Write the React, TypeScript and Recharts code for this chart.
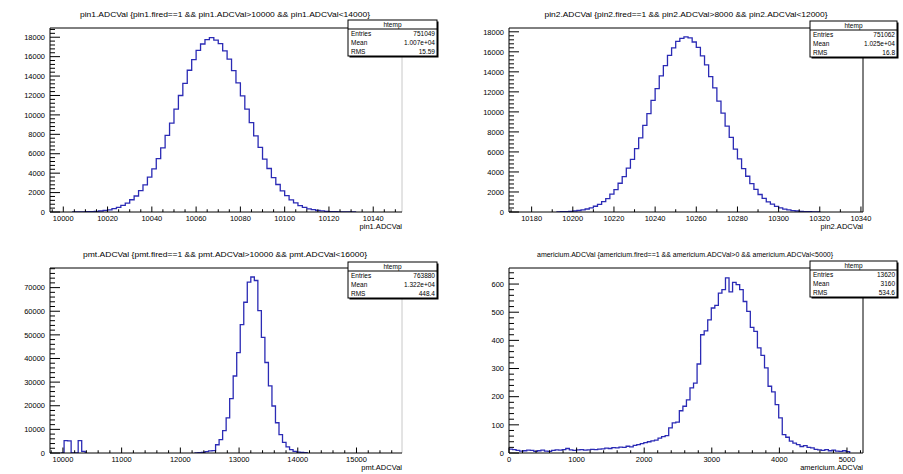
import React from 'react';
import { LineChart, Line, XAxis, YAxis, ReferenceLine } from 'recharts';

const FONT = '"Liberation Sans", Arial, sans-serif';
const HIST_COLOR = '#2b2bb5';

// --- pin1 ---
const PIN1_TITLE = 'pin1.ADCVal {pin1.fired==1 && pin1.ADCVal>10000 && pin1.ADCVal<14000}';
const PIN1_STATS = [['Entries', '751049'], ['Mean', '1.007e+04'], ['RMS', '15.59']];
const PIN1_START = 10004;
const PIN1_BIN = 2;
const PIN1_COUNTS = [
  8, 12, 17, 31, 44, 72, 101, 160, 228, 340, 470, 680, 910, 1260, 1650, 2200,
  2800, 3600, 4450, 5500, 6600, 7900, 9150, 10600, 12000, 13250, 14600, 15700,
  16650, 17300, 17750, 17950, 17700, 17350, 16600, 15750, 14550, 13300, 11950,
  10600, 9200, 7850, 6650, 5450, 4480, 3550, 2830, 2170, 1680, 1240, 930, 660,
  480, 330, 235, 155, 108, 70, 44, 30, 17, 12, 7, 4,
];
const PIN1_X_LABELS = [10000, 10020, 10040, 10060, 10080, 10100, 10120, 10140];
const PIN1_Y_LABELS = [0, 2000, 4000, 6000, 8000, 10000, 12000, 14000, 16000, 18000];

// --- pin2 ---
const PIN2_TITLE = 'pin2.ADCVal {pin2.fired==1 && pin2.ADCVal>8000 && pin2.ADCVal<12000}';
const PIN2_STATS = [['Entries', '751062'], ['Mean', '1.025e+04'], ['RMS', '16.8']];
const PIN2_START = 10192;
const PIN2_BIN = 2;
const PIN2_COUNTS = [
  18, 31, 44, 70, 98, 148, 205, 300, 405, 575, 760, 1040, 1340, 1780, 2240, 2870,
  3530, 4390, 5260, 6330, 7400, 8650, 9820, 11150, 12330, 13600, 14620, 15650,
  16400, 17050, 17350, 17500, 17400, 16980, 16450, 15600, 14700, 13520, 12400,
  11080, 9880, 8580, 7450, 6280, 5300, 4340, 3570, 2830, 2270, 1750, 1370, 1020,
  780, 560, 415, 290, 212, 142, 102, 66, 46, 29, 19, 12,
];
const PIN2_X_LABELS = [10180, 10200, 10220, 10240, 10260, 10280, 10300, 10320, 10340];
const PIN2_Y_LABELS = [0, 2000, 4000, 6000, 8000, 10000, 12000, 14000, 16000, 18000];

// --- pmt ---
const PMT_TITLE = 'pmt.ADCVal {pmt.fired==1 && pmt.ADCVal>10000 && pmt.ADCVal<16000}';
const PMT_STATS = [['Entries', '763880'], ['Mean', '1.322e+04'], ['RMS', '448.4']];
const PMT_START = 9960;
const PMT_BIN = 60;
const PMT_COUNTS = [
  0, 5200, 5100, 0, 0, 5200, 700, 0, 0, 0, 0, 0, 0, 0, 0, 0,
  0, 0, 0, 0, 0, 0, 0, 0, 0, 0, 0, 0, 0, 0, 0, 0,
  0, 0, 0, 0, 0, 0, 0, 100, 300, 600, 900, 1000, 3500, 5700, 9500, 14900,
  23000, 32600, 42500, 54300, 63800, 72300, 74500, 73000, 60300, 48900, 38300,
  28400, 19900, 12800, 7800, 4500, 2600, 1400, 700, 400, 300, 200,
];
const PMT_X_LABELS = [10000, 11000, 12000, 13000, 14000, 15000];
const PMT_Y_LABELS = [0, 10000, 20000, 30000, 40000, 50000, 60000, 70000];

// --- americium ---
const AM_TITLE = 'americium.ADCVal {americium.fired==1 && americium.ADCVal>0 && americium.ADCVal<5000}';
const AM_STATS = [['Entries', '13620'], ['Mean', '3160'], ['RMS', '534.6']];
const AM_START = 0;
const AM_BIN = 52.5;
const AM_COUNTS = [
  14, 12, 9, 7, 8, 10, 9, 6, 8, 10, 7, 6, 9, 11, 10, 12, 16, 11, 9, 11,
  12, 10, 11, 13, 12, 14, 15, 17, 16, 19, 18, 21, 20, 24, 22, 27, 30, 33, 37, 40,
  43, 46, 53, 58, 62, 89, 107, 110, 150, 166, 189, 231, 248, 316, 420,
  434, 473, 515, 524, 568, 580, 622, 572, 606, 598, 580, 538, 503, 446, 432,
  373, 347, 302, 237, 217, 172, 125, 65, 56, 42, 35, 30, 23, 26, 20,
  18, 13, 11, 9, 12, 8, 10, 7, 6, 8, 5,
];
const AM_X_LABELS = [0, 1000, 2000, 3000, 4000, 5000];
const AM_Y_LABELS = [0, 100, 200, 300, 400, 500, 600];

function range(a: number, b: number, step: number) {
  const out: number[] = [];
  for (let v = a; v <= b + 1e-9; v += step) out.push(Math.round(v * 1000) / 1000);
  return out;
}

// histogram bins -> step points; long empty stretches become gaps
function histData(start: number, width: number, counts: number[]) {
  const pts = counts.map((c, i) => {
    const prev = i > 0 ? counts[i - 1] : 0;
    const next = i < counts.length - 1 ? counts[i + 1] : 0;
    const empty = c === 0 && prev === 0 && next === 0;
    return { x: start + i * width, v: empty ? null : c };
  });
  pts.push({ x: start + counts.length * width, v: 0 });
  return pts;
}

function makeXTick(labels: number[], len: number) {
  return (props: any) => {
    const { x, y, payload } = props;
    const major = labels.includes(payload.value);
    return (
      <g>
        <line x1={x} x2={x} y1={y} y2={y - (major ? len : len / 2)} stroke="#000" strokeWidth={1} />
        {major && (
          <text x={x} y={y + 8.5} textAnchor="middle" fontSize={7.5} fontFamily={FONT} fill="#000">
            {payload.value}
          </text>
        )}
      </g>
    );
  };
}

function makeYTick(labels: number[], len: number) {
  return (props: any) => {
    const { x, y, payload } = props;
    const major = labels.includes(payload.value);
    return (
      <g>
        <line x1={x} x2={x + (major ? len : len / 2)} y1={y} y2={y} stroke="#000" strokeWidth={1} />
        {major && (
          <text x={x - 5} y={y + 2.7} textAnchor="end" fontSize={7.5} fontFamily={FONT} fill="#000">
            {payload.value}
          </text>
        )}
      </g>
    );
  };
}

type PanelCfg = {
  left: number;
  top: number;
  plot: { top: number; right: number; bottom: number; left: number };
  data: { x: number; v: number | null }[];
  xDomain: [number, number];
  xTicks: number[];
  xLabels: number[];
  yMax: number;
  yTicks: number[];
  yLabels: number[];
  title: string;
  titleX: number;
  titleY: number;
  titleWidth: number;
  xTitle: string;
  stats: string[][];
  box: { x: number; y: number; w: number };
  rightColor: string;
};

const W = 451;
const H = 237;

function StatsBox({ x, y, w, stats }: { x: number; y: number; w: number; stats: string[][] }) {
  const h = 36;
  return (
    <g fontFamily={FONT} fontSize={6.5} fill="#000">
      <rect x={x + 1.5} y={y + 1.5} width={w} height={h} fill="#000" />
      <rect x={x} y={y} width={w} height={h} fill="#fff" stroke="#000" strokeWidth={1} />
      <text x={x + w / 2} y={y + 6.6} textAnchor="middle">htemp</text>
      <line x1={x} x2={x + w} y1={y + 9} y2={y + 9} stroke="#000" />
      {stats.map((row, i) => (
        <g key={row[0]}>
          <text x={x + 3} y={y + 15.5 + i * 9.2}>{row[0]}</text>
          <text x={x + w - 2} y={y + 15.5 + i * 9.2} textAnchor="end">{row[1]}</text>
        </g>
      ))}
    </g>
  );
}

function Panel({ cfg }: { cfg: PanelCfg }) {
  const { plot } = cfg;
  // axis bands take the room left/below the plot frame
  const yAxisW = plot.left - 2;
  const xAxisH = plot.bottom - 2;
  const plotRight = W - plot.right;
  const plotBottom = H - plot.bottom;
  return (
    <div style={{ position: 'absolute', left: cfg.left, top: cfg.top, width: W, height: H }}>
      <LineChart
        width={W}
        height={H}
        data={cfg.data}
        margin={{ top: plot.top, right: plot.right, bottom: 2, left: 2 }}
      >
        <XAxis
          dataKey="x"
          type="number"
          domain={cfg.xDomain}
          allowDataOverflow
          ticks={cfg.xTicks}
          interval={0}
          height={xAxisH}
          tickSize={0}
          tickMargin={0}
          tickLine={false}
          axisLine={{ stroke: '#000', strokeWidth: 1 }}
          tick={makeXTick(cfg.xLabels, 5.5)}
        />
        <YAxis
          type="number"
          domain={[0, cfg.yMax]}
          allowDataOverflow
          ticks={cfg.yTicks}
          interval={0}
          width={yAxisW}
          tickSize={0}
          tickMargin={0}
          tickLine={false}
          axisLine={{ stroke: '#000', strokeWidth: 1 }}
          tick={makeYTick(cfg.yLabels, 10)}
        />
        <ReferenceLine y={cfg.yMax} stroke="#000" strokeWidth={1} />
        <ReferenceLine x={cfg.xDomain[1]} stroke={cfg.rightColor} strokeWidth={1} />
        <Line
          dataKey="v"
          type="stepAfter"
          stroke={HIST_COLOR}
          strokeWidth={1.3}
          dot={false}
          activeDot={false}
          connectNulls={false}
          isAnimationActive={false}
        />
      </LineChart>
      <svg width={W} height={H} style={{ position: 'absolute', left: 0, top: 0, pointerEvents: 'none' }}>
        <text
          x={cfg.titleX}
          y={cfg.titleY}
          textAnchor="middle"
          fontFamily={FONT}
          fontSize={8}
          textLength={cfg.titleWidth}
          lengthAdjust="spacingAndGlyphs"
          fill="#000"
        >
          {cfg.title}
        </text>
        <text x={plotRight} y={plotBottom + 16.5} textAnchor="end" fontFamily={FONT} fontSize={7.5} fill="#000">
          {cfg.xTitle}
        </text>
        <StatsBox x={cfg.box.x} y={cfg.box.y} w={cfg.box.w} stats={cfg.stats} />
      </svg>
    </div>
  );
}

const PANELS: PanelCfg[] = [
  {
    left: 0,
    top: 0,
    plot: { top: 28, right: 49, bottom: 25, left: 50 },
    data: histData(PIN1_START, PIN1_BIN, PIN1_COUNTS),
    xDomain: [9994, 10153],
    xTicks: range(9995, 10150, 5),
    xLabels: PIN1_X_LABELS,
    yMax: 18950,
    yTicks: range(0, 18800, 400),
    yLabels: PIN1_Y_LABELS,
    title: PIN1_TITLE,
    titleX: 225,
    titleY: 16.5,
    titleWidth: 290,
    xTitle: 'pin1.ADCVal',
    stats: PIN1_STATS,
    box: { x: 348, y: 20, w: 89 },
    rightColor: '#c8c8c8',
  },
  {
    left: 451,
    top: 0,
    plot: { top: 28, right: 39, bottom: 25, left: 58 },
    data: histData(PIN2_START, PIN2_BIN, PIN2_COUNTS),
    xDomain: [10169, 10341],
    xTicks: range(10170, 10340, 10),
    xLabels: PIN2_X_LABELS,
    yMax: 18380,
    yTicks: range(0, 18000, 400),
    yLabels: PIN2_Y_LABELS,
    title: PIN2_TITLE,
    titleX: 235,
    titleY: 16.5,
    titleWidth: 283,
    xTitle: 'pin2.ADCVal',
    stats: PIN2_STATS,
    box: { x: 359, y: 21, w: 87 },
    rightColor: '#000',
  },
  {
    left: 0,
    top: 237,
    plot: { top: 31, right: 49, bottom: 21, left: 50 },
    data: histData(PMT_START, PMT_BIN, PMT_COUNTS),
    xDomain: [9780, 15775],
    xTicks: range(9800, 15600, 200),
    xLabels: PMT_X_LABELS,
    yMax: 78300,
    yTicks: range(0, 78000, 2000),
    yLabels: PMT_Y_LABELS,
    title: PMT_TITLE,
    titleX: 225,
    titleY: 20,
    titleWidth: 284,
    xTitle: 'pmt.ADCVal',
    stats: PMT_STATS,
    box: { x: 348, y: 25, w: 89 },
    rightColor: '#c8c8c8',
  },
  {
    left: 451,
    top: 237,
    plot: { top: 31, right: 39, bottom: 21, left: 58 },
    data: histData(AM_START, AM_BIN, AM_COUNTS),
    xDomain: [0, 5237],
    xTicks: range(0, 5200, 200),
    xLabels: AM_X_LABELS,
    yMax: 657,
    yTicks: range(0, 640, 20),
    yLabels: AM_Y_LABELS,
    title: AM_TITLE,
    titleX: 234,
    titleY: 20,
    titleWidth: 296,
    xTitle: 'americium.ADCVal',
    stats: AM_STATS,
    box: { x: 359, y: 24, w: 87 },
    rightColor: '#000',
  },
];

export default function App() {
  return (
    <div style={{ position: 'absolute', left: 0, top: 0, width: 903, height: 474, background: '#fff', overflow: 'hidden' }}>
      {PANELS.map((p) => (
        <Panel key={p.title} cfg={p} />
      ))}
    </div>
  );
}
